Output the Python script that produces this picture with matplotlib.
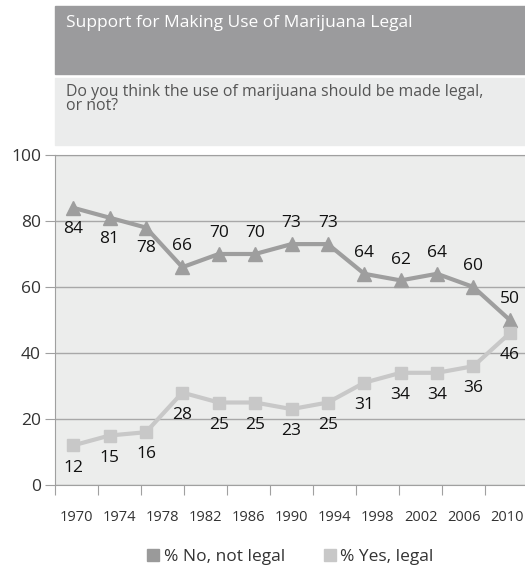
import matplotlib
matplotlib.use("Agg")
import matplotlib.pyplot as plt
from matplotlib.patches import Rectangle
from matplotlib.lines import Line2D

# survey points (evenly spaced categories in the original chart)
no_legal = [84, 81, 78, 66, 70, 70, 73, 73, 64, 62, 64, 60, 50]
yes_legal = [12, 15, 16, 28, 25, 25, 23, 25, 31, 34, 34, 36, 46]
# label above (+1) or below (-1) the point
no_side = [-1, -1, -1, 1, 1, 1, 1, 1, 1, 1, 1, 1, 1]
yes_side = [-1] * 13
year_labels = [str(y) for y in range(1970, 2011, 4)]
y_ticks = [0, 20, 40, 60, 80, 100]

title = "Support for Making Use of Marijuana Legal"
question = "Do you think the use of marijuana should be made legal,\nor not?"

W, H = 525, 572
plt.rcParams['font.family'] = ['Open Sans', 'DejaVu Sans']

fig = plt.figure(figsize=(W / 100, H / 100), dpi=100)

# header boxes
fig.patches.append(Rectangle((55 / W, 1 - 74 / H), 470 / W, 68 / H,
                             transform=fig.transFigure, color='#9b9b9d', zorder=0))
fig.patches.append(Rectangle((55 / W, 1 - 145 / H), 470 / W, 67 / H,
                             transform=fig.transFigure, color='#ebecec', zorder=0))
fig.text(66 / W, 1 - 23 / H, title, color='white', fontsize=12.5,
         va='center', ha='left')
fig.text(66 / W, 1 - 99 / H, question, color='#555555', fontsize=11.4,
         va='center', ha='left', linespacing=0.9)

ax = fig.add_axes([55 / W, 1 - 485 / H, 473 / W, 330 / H])
ax.set_facecolor('#ecedec')

n = len(no_legal)
xs = list(range(n))
c_no = '#9e9e9e'
c_yes = '#c8c8c8'
ax.plot(xs, no_legal, color=c_no, lw=3, marker='^', ms=10, zorder=3)
ax.plot(xs, yes_legal, color=c_yes, lw=3, marker='s', ms=9, zorder=3)

for x, v, s in zip(xs, no_legal, no_side):
    ax.annotate(str(v), (x, v), xytext=(0, 15 * s), textcoords='offset points',
                ha='center', va='center', fontsize=12.5, color='#111111')
for x, v, s in zip(xs, yes_legal, yes_side):
    ax.annotate(str(v), (x, v), xytext=(0, 16 * s), textcoords='offset points',
                ha='center', va='center', fontsize=12.5, color='#111111')

ax.set_xlim(-0.5, n - 0.5)
ax.set_ylim(0, 100)
ax.set_yticks(y_ticks)
ax.yaxis.grid(True, color='#a8a8a8', lw=1)
ax.set_axisbelow(True)
ax.tick_params(axis='y', length=7, color='#a0a0a0', labelsize=12.5,
               labelcolor='#333333', pad=3)

# year axis: 11 equal bins across the plot width
nb = len(year_labels)
step = n / nb
ax.set_xticks([-0.5 + k * step for k in range(nb + 1)])
ax.set_xticklabels([])
ax.set_xticks([-0.5 + (k + 0.5) * step for k in range(nb)], minor=True)
ax.set_xticklabels(year_labels, minor=True)
ax.tick_params(axis='x', which='major', length=7, color='#a0a0a0')
ax.tick_params(axis='x', which='minor', length=0, labelsize=10.5,
               labelcolor='#333333', pad=18)

for side in ['left', 'bottom', 'top']:
    ax.spines[side].set_color('#a0a0a0')
ax.spines['right'].set_visible(False)

handles = [Line2D([], [], ls='none', marker='s', ms=8, color='#9a9a9a'),
           Line2D([], [], ls='none', marker='s', ms=8, color='#c8c8c8')]
fig.legend(handles, ['% No, not legal', '% Yes, legal'], ncol=2,
           loc='center', bbox_to_anchor=(290 / W, 1 - 557 / H), frameon=False,
           fontsize=12.5, handlelength=0.8, handletextpad=0.2, columnspacing=2.2,
           labelcolor='#333333', borderpad=0)

fig.savefig('out.png', dpi=100)
